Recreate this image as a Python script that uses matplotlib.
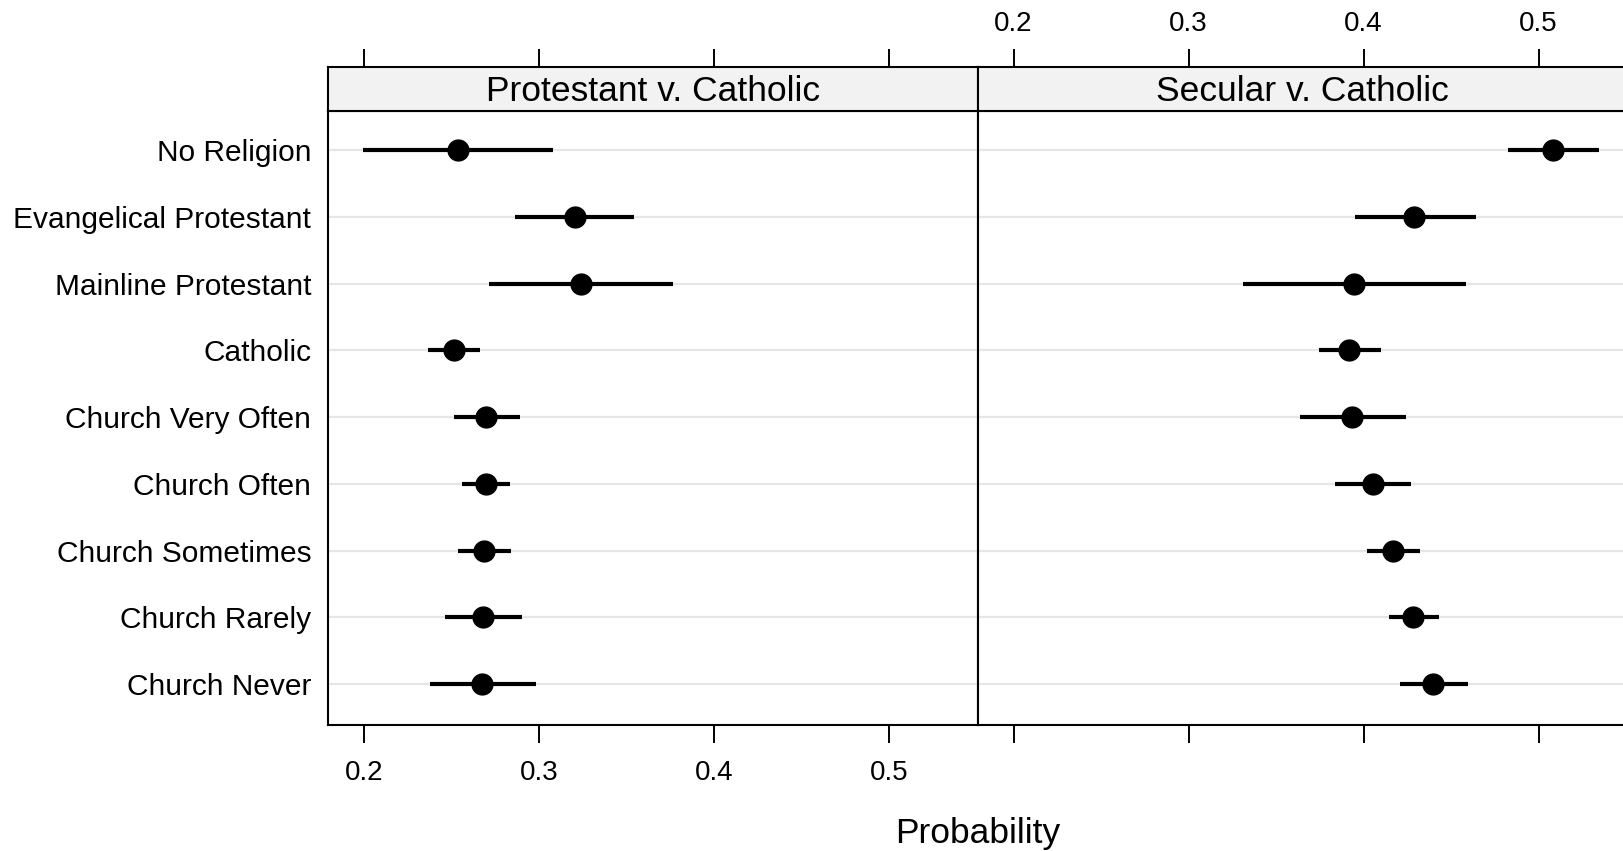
import matplotlib
matplotlib.use("Agg")
from matplotlib import pyplot as plt

plt.rcParams['font.family'] = ['Liberation Sans', 'DejaVu Sans']

labels = ["No Religion", "Evangelical Protestant", "Mainline Protestant",
          "Catholic", "Church Very Often", "Church Often",
          "Church Sometimes", "Church Rarely", "Church Never"]

panels = ["Protestant v. Catholic", "Secular v. Catholic"]

# point estimates and interval ends, one row per label
prot_est = [0.2537, 0.3204, 0.3237, 0.2514, 0.2699, 0.2694, 0.2685, 0.2682, 0.2676]
prot_lo = [0.1995, 0.2865, 0.2712, 0.2365, 0.2512, 0.2558, 0.2537, 0.2465, 0.2375]
prot_hi = [0.3080, 0.3544, 0.3767, 0.2665, 0.2889, 0.2832, 0.2842, 0.2903, 0.2981]

sec_est = [0.5081, 0.4290, 0.3943, 0.3919, 0.3934, 0.4052, 0.4166, 0.4281, 0.4399]
sec_lo = [0.4822, 0.3951, 0.3313, 0.3747, 0.3637, 0.3837, 0.4018, 0.4146, 0.4205]
sec_hi = [0.5346, 0.4641, 0.4586, 0.4098, 0.4243, 0.4270, 0.4323, 0.4432, 0.4599]

xticks = [0.2, 0.3, 0.4, 0.5]
xlim = (0.1794, 0.5505)

ypos = list(range(len(labels), 0, -1))

fig = plt.figure(figsize=(16.23, 8.51), dpi=100)

lefts = [0.2021, 0.6023]
w = 0.4002
bot = 0.1481
h = 0.7217
strip_h = 0.0511

data = [(prot_est, prot_lo, prot_hi), (sec_est, sec_lo, sec_hi)]

for i in range(2):
    est, lo, hi = data[i]
    ax = fig.add_axes([lefts[i], bot, w, h])
    for y in ypos:
        ax.axhline(y, color='#e6e6e6', lw=1.6, zorder=1)
    ax.hlines(ypos, lo, hi, color='black', lw=3.0, capstyle='butt', zorder=2)
    ax.plot(est, ypos, 'o', color='black', ms=15, zorder=3)
    ax.set_xlim(xlim)
    ax.set_ylim(0.39, 9.59)
    ax.set_xticks(xticks)
    ax.tick_params(axis='x', direction='out', length=13, width=1.4,
                   labelsize=20, pad=12)
    if i == 1:
        ax.set_xticklabels([])
    ax.set_yticks(ypos)
    if i == 0:
        ax.set_yticklabels(labels, fontsize=21.5)
    else:
        ax.set_yticklabels([])
    ax.tick_params(axis='y', length=0, pad=12)
    for sp in ax.spines.values():
        sp.set_linewidth(1.5)

    # strip on top of each panel
    st = fig.add_axes([lefts[i], bot + h, w, strip_h])
    st.set_facecolor('#f2f2f2')
    st.set_xlim(xlim)
    st.set_ylim(0, 1)
    st.set_yticks([])
    st.set_xticks(xticks)
    st.xaxis.set_ticks_position('top')
    st.tick_params(axis='x', direction='out', length=13, width=1.4,
                   labelsize=20, pad=9, labeltop=(i == 1), labelbottom=False)
    for sp in st.spines.values():
        sp.set_linewidth(1.5)
    st.text(0.5, 0.44, panels[i], transform=st.transAxes, ha='center',
            va='center', fontsize=25.5)

fig.text(977.5 / 1623, 1 - 833 / 851, "Probability", ha='center', va='center',
         fontsize=25.5)

fig.savefig("out.png", dpi=100)
